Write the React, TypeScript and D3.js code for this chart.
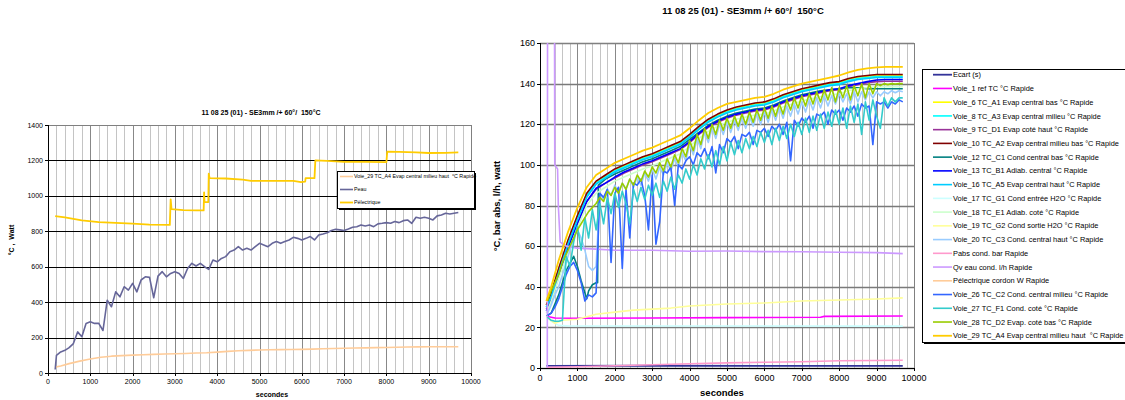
import React from "react";
import * as d3 from "d3";

// ---------- shared time bases (seconds) ----------
const T100 = [
  200, 300, 400, 500, 600, 700, 800, 900, 1000, 1100,
  1200, 1300, 1400, 1500, 1600, 1700, 1800, 1900, 2000, 2100,
  2200, 2300, 2400, 2500, 2600, 2700, 2800, 2900, 3000, 3100,
  3200, 3300, 3400, 3500, 3600, 3700, 3800, 3900, 4000, 4100,
  4200, 4300, 4400, 4500, 4600, 4700, 4800, 4900, 5000, 5100,
  5200, 5300, 5400, 5500, 5600, 5700, 5800, 5900, 6000, 6100,
  6200, 6300, 6400, 6500, 6600, 6700, 6800, 6900, 7000, 7100,
  7200, 7300, 7400, 7500, 7600, 7700, 7800, 7900, 8000, 8100,
  8200, 8300, 8400, 8500, 8600, 8700, 8800, 8900, 9000, 9100,
  9200, 9300, 9400, 9500, 9600, 9700,
];
const TC = [
  170, 300, 500, 750, 1000, 1250, 1500, 1750, 2000, 2250,
  2500, 2750, 3000, 3250, 3500, 3750, 4000, 4250, 4500, 4750,
  5000, 5250, 5500, 5750, 6000, 6250, 6500, 6750, 7000, 7250,
  7500, 7750, 8000, 8250, 8500, 8750, 9000, 9250, 9500, 9700,
];

// ---------- ticks ----------
const X_MAJOR = [0, 1000, 2000, 3000, 4000, 5000, 6000, 7000, 8000, 9000, 10000];
const X_MINOR = [
  200, 400, 600, 800, 1200, 1400, 1600, 1800, 2200, 2400, 2600, 2800,
  3200, 3400, 3600, 3800, 4200, 4400, 4600, 4800, 5200, 5400, 5600, 5800,
  6200, 6400, 6600, 6800, 7200, 7400, 7600, 7800, 8200, 8400, 8600, 8800,
  9200, 9400, 9600, 9800,
];
const Y_LEFT = [0, 200, 400, 600, 800, 1000, 1200, 1400];
const Y_RIGHT = [0, 20, 40, 60, 80, 100, 120, 140, 160];

const TITLE = "11 08 25 (01) - SE3mm /+ 60°/  150°C";

// ---------- series values ----------
const PEAU_START: [number, number] = [170, 20];
const PEAU = [
  100, 119, 128, 143, 166, 232, 205, 280, 289, 280,
  280, 240, 411, 374, 458, 430, 487, 468, 506, 458,
  525, 543, 540, 425, 547, 572, 543, 562, 572, 562,
  534, 590, 619, 604, 619, 600, 585, 638, 628, 647,
  657, 685, 694, 713, 694, 704, 694, 713, 732, 723,
  713, 732, 742, 732, 742, 751, 766, 760, 751, 760,
  770, 751, 779, 785, 792, 804, 811, 808, 804, 813,
  823, 826, 836, 830, 836, 826, 842, 845, 849, 845,
  855, 849, 860, 864, 845, 879, 874, 879, 874, 864,
  887, 892, 902, 898, 902, 906,
];
const PELEC: [number, number][] = [
  [170, 885], [400, 878], [800, 862], [1200, 852], [1600, 848], [2000, 843],
  [2400, 838], [2880, 836], [2900, 980], [2920, 925], [3200, 920], [3500, 918],
  [3680, 918], [3690, 1020], [3700, 965], [3790, 965], [3800, 1125], [3820, 1100],
  [4200, 1098], [4600, 1092], [4800, 1085], [5200, 1085], [5800, 1085], [5980, 1078],
  [6080, 1080], [6090, 1100], [6300, 1100], [6320, 1200], [6600, 1198], [7000, 1192],
  [7500, 1192], [8000, 1190], [8020, 1250], [8300, 1248], [8700, 1246], [9000, 1242],
  [9400, 1243], [9700, 1245],
];
const V29 = [
  33, 40, 53, 67, 79, 89, 95, 98, 101, 103,
  105, 107, 108.5, 110.5, 112.5, 114.5, 118, 122, 125.5, 128,
  130, 131, 132, 133, 133.5, 135, 137, 138.5, 140, 141,
  142, 143, 144, 145.5, 146.8, 147.5, 148, 148.2, 148.2, 148.2,
];
const V10 = [
  31, 37, 49, 63, 75, 86, 92, 95, 98, 100,
  102, 104, 105.5, 107.5, 109.5, 111.5, 115, 119, 122.5, 125,
  127, 128.5, 129.5, 130.5, 131, 132.5, 134.5, 136, 137.5, 138.5,
  139.5, 140.5, 141, 142.5, 143.5, 144, 144.5, 144.5, 144.5, 144.5,
];
const V8 = [
  30, 36, 48, 62, 74, 85, 91, 94, 97, 99,
  101, 103, 104.5, 106.5, 108.5, 110.5, 114, 118, 121.5, 124,
  126, 127.5, 128.5, 129.5, 130, 131.5, 133.5, 135, 136.5, 137.5,
  138.5, 139.5, 140, 141.5, 142.5, 143, 143.5, 143.5, 143.5, 143.5,
];
const V16 = [
  30, 35, 47, 61, 73, 84, 90.5, 93.5, 96.5, 98.5,
  100.5, 102.5, 104, 106, 108, 110, 113.5, 117.5, 121, 123.5,
  125.5, 127, 128, 129, 129.5, 131, 133, 134.5, 136, 137,
  138, 139, 139.5, 141, 142, 142.5, 143, 143, 143, 143,
];
const V13 = [
  28, 33, 45, 59, 71, 82, 88.5, 91, 94, 96.5,
  98.5, 100.5, 102, 104, 106, 108, 111.5, 115.5, 119, 121.5,
  123.5, 125, 126, 127, 127.5, 129, 131, 132.5, 134, 135,
  136, 137, 137.5, 139, 140, 141, 141.8, 142, 142, 142,
];
const V9 = [
  29, 34, 46, 60, 71, 82, 88, 91, 93.5, 96,
  98, 100, 101.5, 103.5, 105.5, 107.5, 111, 115, 118.5, 121,
  123, 124.5, 125.5, 126.5, 127, 128.5, 130.5, 132, 133.5, 134.5,
  135.5, 136.5, 137, 138.5, 139.5, 140.5, 141, 141.2, 141.2, 141.2,
];
const V6 = [
  31, 37, 49, 62.5, 74.5, 85.5, 91.5, 94.5, 97.5, 99.5,
  101.5, 103.5, 105, 107, 109, 111, 114.5, 118.5, 122, 124.5,
  126.5, 128, 129, 130, 130.5, 132, 134, 135.5, 137, 138,
  139, 140, 140.5, 142, 143, 143.5, 144, 144, 144, 144,
];
const V18 = [
  27, 33, 44, 57, 69, 80, 86, 89, 92, 94,
  96, 98, 99.5, 101.5, 103.5, 105.5, 109, 113, 116.5, 119,
  121, 122.5, 123.5, 124.5, 125, 126.5, 128.5, 130, 131.5, 132.5,
  133.5, 134.5, 135, 136.5, 137.5, 138, 138.5, 138.5, 138.5, 138.5,
];
const V12: [number, number][] = [
  [170, 25.5], [300, 27], [500, 36], [700, 48], [900, 55], [1000, 50], [1100, 43],
  [1200, 37], [1250, 34], [1300, 38], [1400, 41], [1500, 42], [1540, 42], [1560, 90],
  [1750, 93], [2000, 95.5], [2250, 97.5], [2500, 99.5], [2750, 101.5], [3000, 103],
  [3250, 105], [3500, 107], [3750, 109], [4000, 112.5], [4250, 116], [4500, 119.5],
  [4750, 122], [5000, 124], [5250, 125.5], [5500, 126.5], [5750, 127.5], [6000, 128],
  [6250, 129.5], [6500, 131.5], [6750, 133], [7000, 134.5], [7250, 135.5], [7500, 136.5],
  [7750, 137], [8000, 137.5], [8250, 138], [8500, 138], [8750, 137.5], [9000, 137.5],
  [9250, 137.5], [9500, 137.5], [9700, 137.5],
];
const V26 = [
  26, 27, 30, 34, 40, 46, 50, 52, 48, 42,
  33, 36, 35, 37, 86, 84, 88, 52, 86, 89,
  49, 88, 64, 91, 90, 93, 85, 68, 95, 61,
  72, 97, 96, 99, 80, 100, 98, 102, 104, 100,
  106, 104, 108, 103, 109, 96, 110, 106, 113, 111,
  114, 108, 115, 114, 116, 110, 117, 116, 118, 114,
  119, 117, 120, 115, 121, 102, 122, 119, 123, 121,
  124, 118, 125, 124, 126, 120, 127, 125, 127, 122,
  128, 126, 129, 124, 130, 128, 129, 110, 131, 130,
  131, 128, 131, 130, 132, 131,
];
const V27 = [
  25, 23.5, 23, 23, 23.5, 55, 50, 62, 70, 58,
  74, 64, 78, 68, 81, 71, 84, 76, 86, 79,
  87, 81, 71, 88, 82, 89, 83, 90, 85, 91,
  84, 92, 87, 94, 88, 95, 91, 98, 93, 100,
  95, 103, 98, 105, 99, 107, 100, 109, 102, 111,
  105, 112, 106, 113, 108, 114, 109, 116, 111, 117,
  110, 118, 112, 119, 113, 120, 114, 121, 115, 123,
  116, 124, 117, 125, 118, 126, 119, 127, 120, 128,
  118, 129, 121, 130, 115, 131, 122, 132, 124, 118,
  133, 129, 133, 131, 133, 133,
];
const V28 = [
  33, 38, 42, 46, 52, 56, 60, 64, 68, 71,
  74, 77, 79, 81, 84, 82, 87, 85, 89, 86,
  91, 88, 93, 90, 95, 92, 97, 94, 99, 96,
  101, 97, 103, 99, 105, 101, 108, 104, 112, 107,
  115, 110, 118, 113, 120, 115, 122, 117, 123, 118,
  124, 119, 125, 120, 126, 121, 127, 122, 128, 123,
  129, 124, 130, 125, 132, 127, 133, 128, 134, 129,
  135, 130, 136, 131, 137, 132, 138, 131, 138, 133,
  139, 132, 139, 134, 140, 133, 140, 135, 140, 139,
  140, 139.5, 140, 139.8, 140, 140,
];
const V20 = [
  27, 31, 36, 40, 46, 52, 58, 64, 68, 64,
  58, 50, 48, 50, 86, 83, 88, 85, 90, 86,
  91, 88, 93, 89, 94, 90, 96, 92, 98, 93,
  99, 95, 101, 97, 103, 99, 106, 102, 110, 105,
  113, 108, 116, 111, 118, 113, 120, 115, 121, 116,
  122, 117, 123, 118, 124, 119, 125, 120, 126, 121,
  127, 122, 128, 123, 129, 124, 130, 125, 131, 126,
  132, 127, 133, 128, 134, 129, 134, 130, 135, 131,
  135, 130, 136, 131, 136, 132, 136, 133, 136, 134,
  136, 135, 136.5, 135.5, 136.5, 136,
];
const ECART: [number, number][] = [[170, 1], [3000, 1.1], [6000, 1], [9700, 1]];
const V1: [number, number][] = [
  [170, 25.5], [400, 24.6], [1000, 24.5], [3000, 24.6], [5000, 24.8], [7500, 25], [7600, 25.4], [9700, 25.6],
];
const V17: [number, number][] = [[170, 25.5], [300, 23], [500, 21], [800, 20.7], [5000, 20.7], [9700, 20.6]];
const V19: [number, number][] = [
  [170, 25], [400, 22], [600, 23.5], [1000, 24], [1200, 25], [1500, 26.5], [2000, 27.5], [2500, 28.5],
  [3000, 29], [3500, 29.5], [4000, 30.5], [4500, 31], [5000, 31.5], [6000, 32], [6500, 32.5],
  [7000, 33], [8000, 33.5], [9000, 34], [9700, 34.5],
];
const PABS: [number, number][] = [
  [170, 0.3], [1000, 0.6], [2000, 1.1], [3000, 1.6], [4000, 2.1], [5000, 2.5], [6000, 2.8],
  [7000, 3.1], [7500, 3.3], [8000, 3.6], [9000, 3.7], [9700, 3.8],
];
const QV: [number, number][] = [
  [170, 0.5], [195, 0.5], [205, 250], [380, 250], [395, 100], [470, 98], [490, 80], [540, 62],
  [700, 60], [1000, 59], [1500, 58.5], [2000, 58], [3000, 58], [4000, 57.5], [5000, 57.6],
  [6000, 57.3], [7000, 57.2], [8000, 57], [9000, 56.8], [9700, 56.3],
];

type Pt = [number, number];
type Series = { name: string; color: string; width: number; pts: Pt[] };
const zip = (t: number[], v: number[]): Pt[] => v.map((val, i) => [t[i], val] as Pt);

const LEFT_SERIES: Series[] = [
  { name: "Voie_29 TC_A4 Evap central milieu haut  °C Rapide", color: "#ffcc99", width: 1.6, pts: zip(TC, V29) },
  { name: "Peau", color: "#666699", width: 1.6, pts: [PEAU_START, ...zip(T100, PEAU)] },
  { name: "Pélectrique", color: "#ffcc00", width: 1.8, pts: PELEC },
];

const RIGHT_SERIES: Series[] = [
  { name: "Ecart (s)", color: "#333399", width: 1.8, pts: ECART },
  { name: "Voie_1 ref TC °C Rapide", color: "#ff00ff", width: 1.6, pts: V1 },
  { name: "Voie_6 TC_A1 Evap central bas °C Rapide", color: "#ffff00", width: 1.6, pts: zip(TC, V6) },
  { name: "Voie_8 TC_A3 Evap central milieu °C Rapide", color: "#00ffff", width: 1.6, pts: zip(TC, V8) },
  { name: "Voie_9 TC_D1 Evap coté haut °C Rapide", color: "#993399", width: 1.6, pts: zip(TC, V9) },
  { name: "Voie_10 TC_A2 Evap central milieu bas °C Rapide", color: "#800000", width: 1.6, pts: zip(TC, V10) },
  { name: "Voie_12 TC_C1 Cond central bas °C Rapide", color: "#008080", width: 1.6, pts: V12 },
  { name: "Voie_13 TC_B1 Adiab. central °C Rapide", color: "#0000ff", width: 1.6, pts: zip(TC, V13) },
  { name: "Voie_16 TC_A5 Evap central haut °C Rapide", color: "#00ccff", width: 1.6, pts: zip(TC, V16) },
  { name: "Voie_17 TC_G1 Cond entrée H2O °C Rapide", color: "#ccffff", width: 1.6, pts: V17 },
  { name: "Voie_18 TC_E1 Adiab. coté °C Rapide", color: "#ccffcc", width: 1.6, pts: zip(TC, V18) },
  { name: "Voie_19 TC_G2 Cond sortie H2O °C Rapide", color: "#ffff99", width: 1.6, pts: V19 },
  { name: "Voie_20 TC_C3 Cond. central haut °C Rapide", color: "#99ccff", width: 1.6, pts: zip(T100, V20) },
  { name: "Pabs cond. bar Rapide", color: "#ff99cc", width: 1.6, pts: PABS },
  { name: "Qv eau cond. l/h Rapide", color: "#cc99ff", width: 1.6, pts: QV },
  { name: "Pélectrique cordon W Rapide", color: "#ffcc99", width: 1.6, pts: PELEC },
  { name: "Voie_26 TC_C2 Cond. central milieu °C Rapide", color: "#3366ff", width: 1.6, pts: zip(T100, V26) },
  { name: "Voie_27 TC_F1 Cond. coté °C Rapide", color: "#33cccc", width: 1.6, pts: zip(T100, V27) },
  { name: "Voie_28 TC_D2 Evap. coté bas °C Rapide", color: "#99cc00", width: 1.6, pts: zip(T100, V28) },
  { name: "Voie_29 TC_A4 Evap central milieu haut  °C Rapide", color: "#ffcc00", width: 1.8, pts: zip(TC, V29) },
];

const FONT = "Arial, 'Liberation Sans', sans-serif";
const PRE = { whiteSpace: "pre" as const };

type Box = { x0: number; x1: number; y0: number; y1: number };

function Panel(props: {
  id: string; box: Box; yMax: number; yTicks: number[]; series: Series[];
  tickFont: number; hColor: string; hWidth: number;
}) {
  const { id, box, yMax, yTicks, series, tickFont, hColor, hWidth } = props;
  const x = d3.scaleLinear().domain([0, 10000]).range([box.x0, box.x1]);
  const y = d3.scaleLinear().domain([0, yMax]).range([box.y0, box.y1]);
  const line = d3.line<Pt>().x((d) => x(d[0])).y((d) => y(d[1]));
  const cx = (v: number) => Math.round(x(v)) + 0.5;
  const cy = (v: number) => Math.round(y(v)) + 0.5;
  return (
    <g>
      <defs>
        <clipPath id={id}>
          <rect x={box.x0} y={box.y1} width={box.x1 - box.x0} height={box.y0 - box.y1} />
        </clipPath>
      </defs>
      <rect x={box.x0} y={box.y1} width={box.x1 - box.x0} height={box.y0 - box.y1} fill="#ffffff" />
      {X_MINOR.map((t) => (
        <line key={"m" + t} x1={cx(t)} x2={cx(t)} y1={box.y1} y2={box.y0} stroke="#c4c4c4" strokeWidth={1} />
      ))}
      {X_MAJOR.map((t) => (
        <line key={"M" + t} x1={cx(t)} x2={cx(t)} y1={box.y1} y2={box.y0} stroke="#888888" strokeWidth={1} />
      ))}
      {yTicks.map((v) => (
        <line key={"h" + v} x1={box.x0} x2={box.x1} y1={cy(v)} y2={cy(v)} stroke={hColor} strokeWidth={hWidth} />
      ))}
      <rect x={box.x0 + 0.5} y={box.y1 + 0.5} width={box.x1 - box.x0} height={box.y0 - box.y1}
        fill="none" stroke="#808080" strokeWidth={1} />
      <g clipPath={`url(#${id})`}>
        {series.map((s, i) => (
          <path key={i} d={line(s.pts) || ""} fill="none" stroke={s.color} strokeWidth={s.width}
            strokeLinejoin="round" strokeLinecap="butt" />
        ))}
      </g>
      <line x1={box.x0 + 0.5} x2={box.x0 + 0.5} y1={box.y1} y2={box.y0} stroke="#000" strokeWidth={1} />
      <line x1={box.x0} x2={box.x1} y1={box.y0 + 0.5} y2={box.y0 + 0.5} stroke="#000" strokeWidth={1} />
      {yTicks.map((v) => (
        <g key={"yt" + v}>
          <line x1={box.x0 - 3} x2={box.x0} y1={cy(v)} y2={cy(v)} stroke="#000" />
          <text x={box.x0 - 5} y={y(v) + tickFont * 0.36} textAnchor="end" fontSize={tickFont} fontFamily={FONT}>{v}</text>
        </g>
      ))}
      {X_MAJOR.map((t) => (
        <g key={"xt" + t}>
          <line x1={cx(t)} x2={cx(t)} y1={box.y0} y2={box.y0 + 3} stroke="#000" />
          <text x={x(t)} y={box.y0 + 4 + tickFont} textAnchor="middle" fontSize={tickFont} fontFamily={FONT}>{t}</text>
        </g>
      ))}
    </g>
  );
}

function Legend(props: { x: number; y: number; w: number; h: number; first: number; step: number; font: number;
  lx0: number; lx1: number; items: Series[]; shadow: number }) {
  const { x, y, w, h, first, step, font, lx0, lx1, items, shadow } = props;
  return (
    <g>
      <rect x={x + shadow} y={y + shadow} width={w} height={h} fill="#000" />
      <rect x={x + 0.5} y={y + 0.5} width={w} height={h} fill="#fff" stroke="#000" strokeWidth={1} />
      {items.map((s, i) => {
        const yy = first + i * step;
        return (
          <g key={i}>
            <line x1={lx0} x2={lx1} y1={yy} y2={yy} stroke={s.color} strokeWidth={s.width} />
            <text x={lx1 + 1} y={yy + font * 0.35} fontSize={font} fontFamily={FONT} fill="#000" style={PRE}>{s.name}</text>
          </g>
        );
      })}
    </g>
  );
}

export default function App() {
  const L: Box = { x0: 48, x1: 471, y0: 373, y1: 125 };
  const R: Box = { x0: 540, x1: 914, y0: 368, y1: 43 };
  return (
    <svg width={1125} height={400} style={{ position: "absolute", left: 0, top: 0, background: "#fff" }}>
      <rect x={0} y={0} width={1125} height={400} fill="#fff" />
      {/* Left chart */}
      <text x={261} y={115} textAnchor="middle" fontSize={7} fontWeight="bold" fontFamily={FONT} style={PRE}>{TITLE}</text>
      <Panel id="clipL" box={L} yMax={1400} yTicks={Y_LEFT} series={LEFT_SERIES} tickFont={7} hColor="#000" hWidth={1} />
      <text x={272} y={397} textAnchor="middle" fontSize={7} fontWeight="bold" fontFamily={FONT}>secondes</text>
      <text transform="translate(14,240) rotate(-90)" textAnchor="middle" fontSize={7} fontWeight="bold" fontFamily={FONT} style={PRE}>°C ,  Watt</text>
      <Legend x={337} y={171} w={137} h={37} first={176.5} step={13} font={5.3} lx0={340} lx1={353}
        items={LEFT_SERIES} shadow={2} />

      {/* Right chart */}
      <text x={743} y={14} textAnchor="middle" fontSize={9.5} fontWeight="bold" fontFamily={FONT} style={PRE}>{TITLE}</text>
      <Panel id="clipR" box={R} yMax={160} yTicks={Y_RIGHT} series={RIGHT_SERIES} tickFont={9} hColor="#7a7a7a" hWidth={1.5} />
      <text x={722} y={396} textAnchor="middle" fontSize={9.5} fontWeight="bold" fontFamily={FONT}>secondes</text>
      <text transform="translate(500,206) rotate(-90)" textAnchor="middle" fontSize={9.5} fontWeight="bold" fontFamily={FONT}>°C, bar abs, l/h, watt</text>
      <Legend x={922} y={69} w={220} h={273} first={74.7} step={13.74} font={7.4} lx0={933} lx1={952}
        items={RIGHT_SERIES} shadow={2} />
    </svg>
  );
}
